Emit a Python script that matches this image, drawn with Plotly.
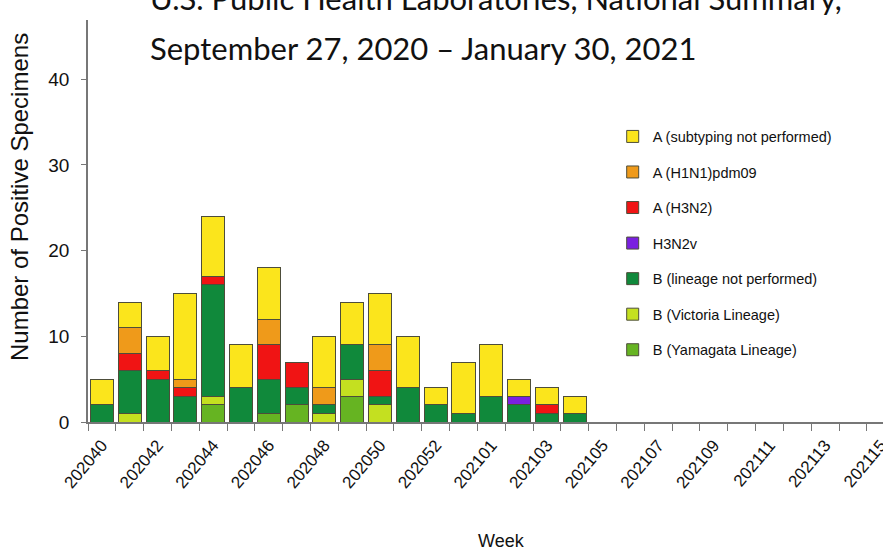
import plotly.graph_objects as go

# Week categories (2020 has 53 weeks)
weeks = [str(202000 + w) for w in range(40, 54)] + [str(202100 + w) for w in range(1, 16)]
tick_labels = [w if i % 2 == 0 else "" for i, w in enumerate(weeks)]
data_weeks = weeks[:18]

# Series values, stacked bottom -> top
yamagata = [0, 0, 0, 0, 2, 0, 1, 2, 0, 3, 0, 0, 0, 0, 0, 0, 0, 0]
victoria = [0, 1, 0, 0, 1, 0, 0, 0, 1, 2, 2, 0, 0, 0, 0, 0, 0, 0]
b_lineage_np = [2, 5, 5, 3, 13, 4, 4, 2, 1, 4, 1, 4, 2, 1, 3, 2, 1, 1]
h3n2v = [0, 0, 0, 0, 0, 0, 0, 0, 0, 0, 0, 0, 0, 0, 0, 1, 0, 0]
h3n2 = [0, 2, 1, 1, 1, 0, 4, 3, 0, 0, 3, 0, 0, 0, 0, 0, 1, 0]
h1n1 = [0, 3, 0, 1, 0, 0, 3, 0, 2, 0, 3, 0, 0, 0, 0, 0, 0, 0]
a_subtyping_np = [3, 3, 4, 10, 7, 5, 6, 0, 6, 5, 6, 6, 2, 6, 6, 2, 2, 2]

series = [
    ("B (Yamagata Lineage)", yamagata, "#66B422"),
    ("B (Victoria Lineage)", victoria, "#C4E020"),
    ("B (lineage not performed)", b_lineage_np, "#10893B"),
    ("H3N2v", h3n2v, "#7A20E0"),
    ("A (H3N2)", h3n2, "#F01414"),
    ("A (H1N1)pdm09", h1n1, "#EF9A1A"),
    ("A (subtyping not performed)", a_subtyping_np, "#FBE51C"),
]

SANS = "Liberation Sans, Arial, sans-serif"
TITLE_FONT = "Lato, Liberation Sans, sans-serif"

fig = go.Figure()
n = len(series)
for i, (name, vals, color) in enumerate(series):
    fig.add_trace(go.Bar(
        x=data_weeks, y=vals, name=name, legendgroup=name,
        legendrank=n - i,
        marker=dict(color=color, line=dict(color="#4d4d3a", width=1)),
        width=0.83,
    ))

fig.update_layout(
    barmode="stack",
    width=883, height=556,
    margin=dict(l=88, r=0, t=20, b=134, autoexpand=False),
    plot_bgcolor="white", paper_bgcolor="white",
    showlegend=True,
    legend=dict(
        traceorder="grouped", tracegroupgap=13.7,
        x=0.66, y=0.75, xanchor="left", yanchor="top",
        font=dict(family=SANS, size=14.5, color="#111"),
        bgcolor="rgba(0,0,0,0)", itemwidth=30,
    ),
    xaxis=dict(
        type="category", categoryorder="array", categoryarray=weeks,
        range=[-0.5, 28.08], automargin=False,
        tickmode="array", tickvals=weeks, ticktext=tick_labels,
        tickson="boundaries", ticks="outside", ticklen=7, tickcolor="#777",
        tickangle=-50, tickfont=dict(family=SANS, size=17, color="#111"),
        ticklabelstandoff=5,
        showline=True, linecolor="#777", linewidth=1.5,
        showgrid=False, zeroline=False,
    ),
    yaxis=dict(
        range=[0, 46.9], tickvals=[0, 10, 20, 30, 40], automargin=False,
        ticks="outside", ticklen=5, tickcolor="#777",
        tickfont=dict(family=SANS, size=19, color="#111"),
        ticklabelstandoff=8,
        showline=True, linecolor="#777", linewidth=1.5,
        showgrid=False, zeroline=False,
    ),
    annotations=[
        dict(text="Number of Positive Specimens", xref="paper", yref="paper",
             x=(19 - 88) / 795, y=(422 - 197) / 402, xanchor="center", yanchor="middle",
             textangle=-90,
             showarrow=False, font=dict(family=SANS, size=24, color="#111")),
        dict(text="Week", xref="paper", yref="paper",
             x=(501 - 88) / 795, y=-(541 - 422) / 402, xanchor="center", yanchor="middle",
             showarrow=False, font=dict(family=SANS, size=18, color="#111")),
        dict(text="U.S. Public Health Laboratories, National Summary,",
             xref="paper", yref="paper", x=(148 - 88) / 795, y=(422 + 2) / 402,
             xanchor="left", yanchor="middle", align="left",
             showarrow=False, font=dict(family=TITLE_FONT, size=31, color="#111")),
        dict(text="September 27, 2020 \u2013 January 30, 2021",
             xref="paper", yref="paper", x=(148 - 88) / 795, y=(422 - 48) / 402,
             xanchor="left", yanchor="middle", align="left",
             showarrow=False, font=dict(family=TITLE_FONT, size=31, color="#111")),
    ],
)

fig.write_html("out.html", config={"displayModeBar": False},
               post_script="document.body.style.margin='0';")
